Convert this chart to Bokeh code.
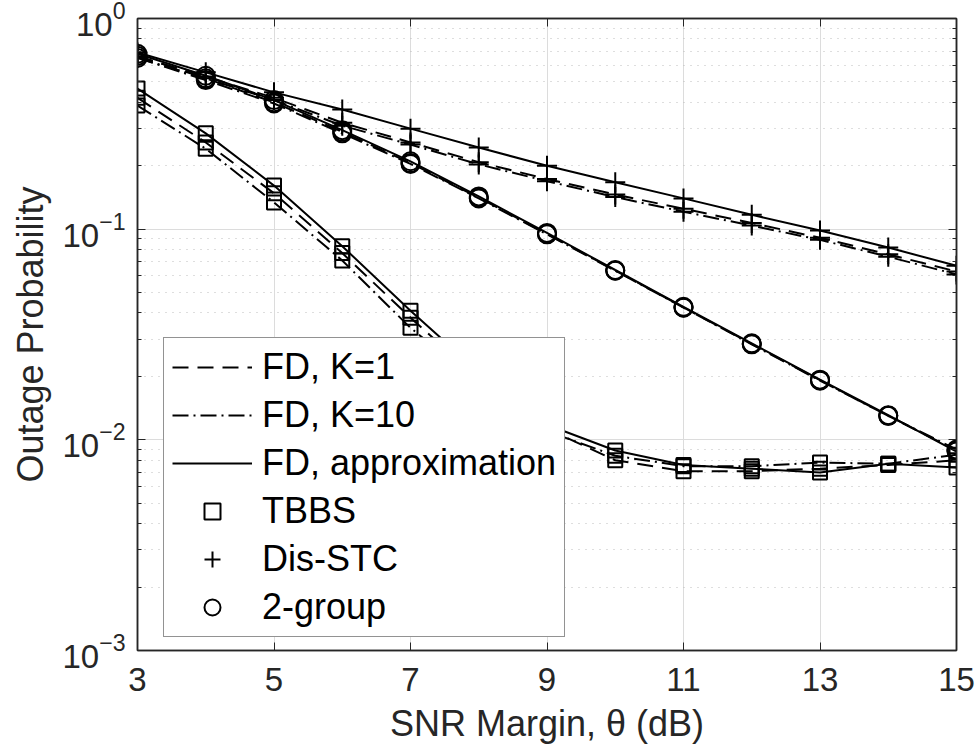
from bokeh.plotting import figure
from bokeh.models import (FixedTicker, LogAxis, LinearAxis, Legend, LegendItem,
                          Range1d, ColumnDataSource)
from bokeh.embed import file_html
from bokeh.resources import INLINE

# ---------------- data ----------------
theta = [3, 4, 5, 6, 7, 8, 9, 10, 11, 12, 13, 14, 15]

tbbs_k1 = [0.42, 0.258, 0.148, 0.077, 0.038, 0.0195, 0.0113, 0.0080, 0.0071, 0.0071, 0.0073, 0.0076, 0.0080]
tbbs_k10 = [0.386, 0.241, 0.134, 0.071, 0.034, 0.0185, 0.0110, 0.0084, 0.0075, 0.0075, 0.0078, 0.0077, 0.0085]
tbbs_apx = [0.465, 0.285, 0.161, 0.083, 0.041, 0.021, 0.0118, 0.0089, 0.0076, 0.0073, 0.0070, 0.0077, 0.0074]

stc_k1 = [0.66, 0.53, 0.42, 0.32, 0.258, 0.208, 0.173, 0.146, 0.125, 0.107, 0.091, 0.076, 0.063]
stc_k10 = [0.65, 0.52, 0.41, 0.31, 0.252, 0.203, 0.169, 0.142, 0.121, 0.104, 0.089, 0.074, 0.061]
stc_apx = [0.69, 0.555, 0.446, 0.37, 0.30, 0.244, 0.20, 0.167, 0.14, 0.117, 0.0986, 0.0818, 0.067]

grp_k1 = [0.665, 0.52, 0.40, 0.29, 0.206, 0.141, 0.095, 0.0637, 0.0425, 0.0285, 0.0192, 0.0130, 0.0089]
grp_k10 = [0.65, 0.51, 0.395, 0.285, 0.204, 0.140, 0.0945, 0.0635, 0.0424, 0.0284, 0.0191, 0.0130, 0.0090]
grp_apx = [0.68, 0.535, 0.41, 0.295, 0.21, 0.143, 0.096, 0.064, 0.0428, 0.0287, 0.0193, 0.0131, 0.0088]

x_ticks = [3, 5, 7, 9, 11, 13, 15]
y_ticks = [1e-3, 1e-2, 1e-1, 1.0]
y_minor = [m * 10.0 ** e for e in range(-3, 0) for m in range(2, 10)]

legend_labels = ["FD, K=1", "FD, K=10", "FD, approximation", "TBBS", "Dis-STC", "2-group"]

# ---------------- figure ----------------
FONT = "Liberation Sans"
AX = "#262626"

p = figure(width=978, height=755, x_range=Range1d(3, 15), y_range=Range1d(1e-3, 1),
           y_axis_type="log", output_backend="svg", toolbar_location=None,
           min_border_left=137, min_border_right=22, min_border_top=18, min_border_bottom=105)
p.outline_line_color = AX
p.outline_line_width = 1.5
p.background_fill_color = "white"

p.xaxis.ticker = FixedTicker(ticks=x_ticks)
p.yaxis.ticker = FixedTicker(ticks=y_ticks, minor_ticks=y_minor)

for ax in (p.xaxis[0], p.yaxis[0]):
    ax.axis_line_color = AX
    ax.axis_line_width = 1.5
    ax.major_tick_line_color = AX
    ax.minor_tick_line_color = AX
    ax.major_tick_in = 8
    ax.major_tick_out = 0
    ax.minor_tick_in = 4
    ax.minor_tick_out = 0
    ax.major_label_text_font = FONT
    ax.major_label_text_font_size = "33px"
    ax.major_label_text_color = AX
    ax.major_label_standoff = 12
    ax.axis_label_text_font = FONT
    ax.axis_label_text_font_size = "36px"
    ax.axis_label_text_font_style = "normal"
    ax.axis_label_text_color = AX
    ax.axis_label_standoff = 8

p.xaxis.major_label_standoff = 17
p.xaxis.axis_label_standoff = 9

p.xaxis.axis_label = "SNR Margin, θ (dB)"
p.yaxis.axis_label = "Outage Probability"

# mirrored axes (box)
rax = LogAxis(ticker=FixedTicker(ticks=y_ticks, minor_ticks=y_minor))
tax = LinearAxis(ticker=FixedTicker(ticks=x_ticks))
for ax in (rax, tax):
    ax.axis_line_color = AX
    ax.axis_line_width = 1.5
    ax.major_tick_line_color = AX
    ax.minor_tick_line_color = AX
    ax.major_tick_in = 8
    ax.major_tick_out = 0
    ax.minor_tick_in = 4
    ax.minor_tick_out = 0
    ax.major_label_text_font_size = "0px"
    ax.major_label_text_alpha = 0
    ax.major_label_standoff = 0
p.add_layout(rax, "right")
p.add_layout(tax, "above")

# grids
p.xgrid.grid_line_color = "#dcdcdc"
p.xgrid.grid_line_width = 1
p.ygrid.grid_line_color = "#dcdcdc"
p.ygrid.grid_line_width = 1
p.ygrid.minor_grid_line_color = "#bdbdbd"
p.ygrid.minor_grid_line_dash = "1 6"
p.ygrid.minor_grid_line_width = 1

# ---------------- series ----------------
LW = 2
series = [
    (tbbs_k1, "dashed", "square", 14),
    (tbbs_k10, "dashdot", "square", 14),
    (tbbs_apx, "solid", "square", 14),
    (stc_k1, "dashed", "cross", 20),
    (stc_k10, "dashdot", "cross", 20),
    (stc_apx, "solid", "cross", 20),
    (grp_k1, "dashed", "circle", 18),
    (grp_k10, "dashdot", "circle", 18),
    (grp_apx, "solid", "circle", 18),
]
DASH = {"dashed": "16 9", "dashdot": "16 5 2 5", "solid": "solid"}
line_r = []
mark_r = []
for ys, dash, marker, size in series:
    src = ColumnDataSource(dict(x=theta, y=ys))
    lr = p.line("x", "y", source=src, line_color="black", line_width=LW, line_dash=DASH[dash])
    mr = p.scatter("x", "y", source=src, marker=marker, size=size, fill_color=None,
                   line_color="black", line_width=2)
    line_r.append(lr)
    mark_r.append(mr)

# legend: line styles from the TBBS lines, markers from the three schemes
legend_renderers = [line_r[0], line_r[1], line_r[2], mark_r[0], mark_r[3], mark_r[6]]
items = [LegendItem(label=l, renderers=[r]) for l, r in zip(legend_labels, legend_renderers)]
legend = Legend(items=items, location=(26, 13))
legend.label_text_font = FONT
legend.label_text_font_size = "36px"
legend.label_text_color = "black"
legend.glyph_width = 80
legend.glyph_height = 40
legend.label_height = 40
legend.label_standoff = 10
legend.spacing = 6
legend.padding = 8
legend.margin = 0
legend.border_line_color = AX
legend.border_line_width = 1.5
legend.background_fill_color = "white"
legend.background_fill_alpha = 1.0
p.add_layout(legend)

open("out.html", "w").write(file_html(p, INLINE))
